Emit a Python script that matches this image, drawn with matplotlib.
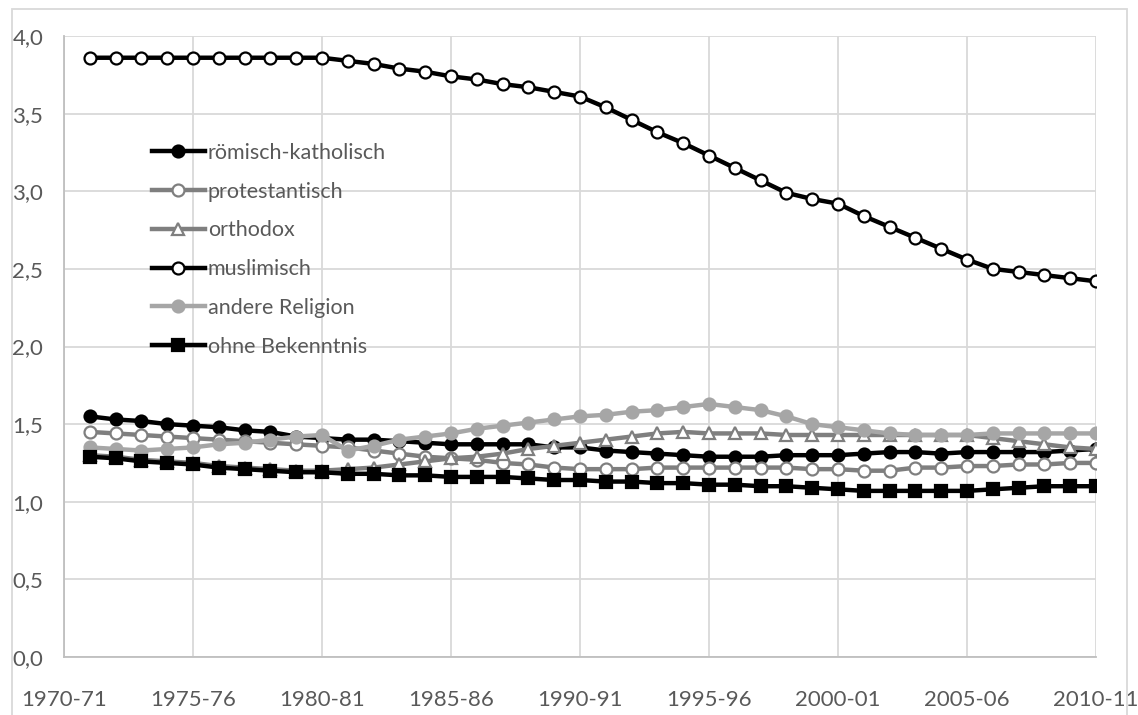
import matplotlib.pyplot as plt
from matplotlib.patches import Rectangle

# school years 1970-71 .. 2010-11, data starts at 1971-72
years = [f'{y}-{str(y + 1)[-2:]}' for y in range(1970, 2011)]
tick_years = years[::5]

roemisch_katholisch = [1.55, 1.53, 1.52, 1.50, 1.49, 1.48, 1.46, 1.45, 1.42, 1.41,
                       1.40, 1.40, 1.39, 1.38, 1.37, 1.37, 1.37, 1.37, 1.35, 1.35,
                       1.33, 1.32, 1.31, 1.30, 1.29, 1.29, 1.29, 1.30, 1.30, 1.30,
                       1.31, 1.32, 1.32, 1.31, 1.32, 1.32, 1.32, 1.32, 1.33, 1.34]
protestantisch = [1.45, 1.44, 1.43, 1.42, 1.41, 1.40, 1.39, 1.38, 1.37, 1.36,
                  1.35, 1.33, 1.31, 1.29, 1.28, 1.27, 1.25, 1.24, 1.22, 1.21,
                  1.21, 1.21, 1.22, 1.22, 1.22, 1.22, 1.22, 1.22, 1.21, 1.21,
                  1.20, 1.20, 1.22, 1.22, 1.23, 1.23, 1.24, 1.24, 1.25, 1.25]
orthodox = [1.30, 1.29, 1.27, 1.26, 1.25, 1.23, 1.22, 1.21, 1.20, 1.20,
            1.21, 1.22, 1.24, 1.26, 1.28, 1.29, 1.31, 1.34, 1.36, 1.38,
            1.40, 1.42, 1.44, 1.45, 1.44, 1.44, 1.44, 1.43, 1.43, 1.43,
            1.43, 1.43, 1.43, 1.43, 1.43, 1.41, 1.39, 1.37, 1.35, 1.34]
muslimisch = [3.86, 3.86, 3.86, 3.86, 3.86, 3.86, 3.86, 3.86, 3.86, 3.86,
              3.84, 3.82, 3.79, 3.77, 3.74, 3.72, 3.69, 3.67, 3.64, 3.61,
              3.54, 3.46, 3.38, 3.31, 3.23, 3.15, 3.07, 2.99, 2.95, 2.92,
              2.84, 2.77, 2.70, 2.63, 2.56, 2.50, 2.48, 2.46, 2.44, 2.42]
andere_religion = [1.35, 1.34, 1.33, 1.34, 1.35, 1.37, 1.38, 1.40, 1.42, 1.43,
                   1.33, 1.36, 1.40, 1.42, 1.44, 1.47, 1.49, 1.51, 1.53, 1.55,
                   1.56, 1.58, 1.59, 1.61, 1.63, 1.61, 1.59, 1.55, 1.50, 1.48,
                   1.46, 1.44, 1.43, 1.43, 1.43, 1.44, 1.44, 1.44, 1.44, 1.44]
ohne_bekenntnis = [1.29, 1.28, 1.26, 1.25, 1.24, 1.22, 1.21, 1.20, 1.19, 1.19,
                   1.18, 1.18, 1.17, 1.17, 1.16, 1.16, 1.16, 1.15, 1.14, 1.14,
                   1.13, 1.13, 1.12, 1.12, 1.11, 1.11, 1.10, 1.10, 1.09, 1.08,
                   1.07, 1.07, 1.07, 1.07, 1.07, 1.08, 1.09, 1.10, 1.10, 1.10]

series = [
    ('römisch-katholisch', roemisch_katholisch, dict(color='black', marker='o', mfc='black', mec='black')),
    ('protestantisch', protestantisch, dict(color='#7f7f7f', marker='o', mfc='white', mec='#7f7f7f')),
    ('orthodox', orthodox, dict(color='#7f7f7f', marker='^', mfc='white', mec='#7f7f7f')),
    ('muslimisch', muslimisch, dict(color='black', marker='o', mfc='white', mec='black')),
    ('andere Religion', andere_religion, dict(color='#a6a6a6', marker='o', mfc='#a6a6a6', mec='#a6a6a6')),
    ('ohne Bekenntnis', ohne_bekenntnis, dict(color='black', marker='s', mfc='black', mec='black')),
]

plt.rcParams['font.family'] = ['Lato', 'DejaVu Sans']
text_col = '#595959'
grid_col = '#d9d9d9'

fig = plt.figure(figsize=(11.38, 7.15), dpi=100)
ax = fig.add_axes([64 / 1138, 1 - 657 / 715, (1096 - 64) / 1138, (657 - 36) / 715])

x = list(range(1, len(years)))
for label, vals, st in series:
    ms = 8.0 if st['marker'] == 's' else 8.6
    if st['marker'] == '^':
        ms = 9.0
    ax.plot(x, vals, label=label, lw=3.2, ms=ms, mew=1.6, **st)

ax.set_xlim(0, len(years) - 1)
ax.set_ylim(0, 4)
ax.set_xticks(range(0, len(years), 5))
ax.set_xticklabels(tick_years)
ax.set_yticks([i * 0.5 for i in range(9)])
ax.set_yticklabels([f'{i * 0.5:.1f}'.replace('.', ',') for i in range(9)])
ax.tick_params(axis='both', length=0, labelsize=16, colors=text_col)
ax.tick_params(axis='y', pad=15)
ax.tick_params(axis='x', pad=24)
ax.grid(True, color=grid_col, lw=1.3)
ax.set_axisbelow(True)
for side in ['top', 'right']:
    ax.spines[side].set_visible(False)
for side in ['left', 'bottom']:
    ax.spines[side].set_color('#bfbfbf')
    ax.spines[side].set_linewidth(1.3)

leg = ax.legend(loc='upper left', bbox_to_anchor=(152 / 1138, 1 - 143 / 715),
                bbox_transform=fig.transFigure, frameon=False, fontsize=15.5,
                handlelength=2.45, handletextpad=0.14, labelspacing=0.87,
                borderpad=0, borderaxespad=0, numpoints=1)
for t in leg.get_texts():
    t.set_color(text_col)

fig.patches.append(Rectangle((12 / 1138, -0.01), (1127 - 12) / 1138, 1.01 - 9 / 715,
                             transform=fig.transFigure, fill=False, ec=grid_col, lw=1.3))

fig.savefig('out.png', dpi=100)
